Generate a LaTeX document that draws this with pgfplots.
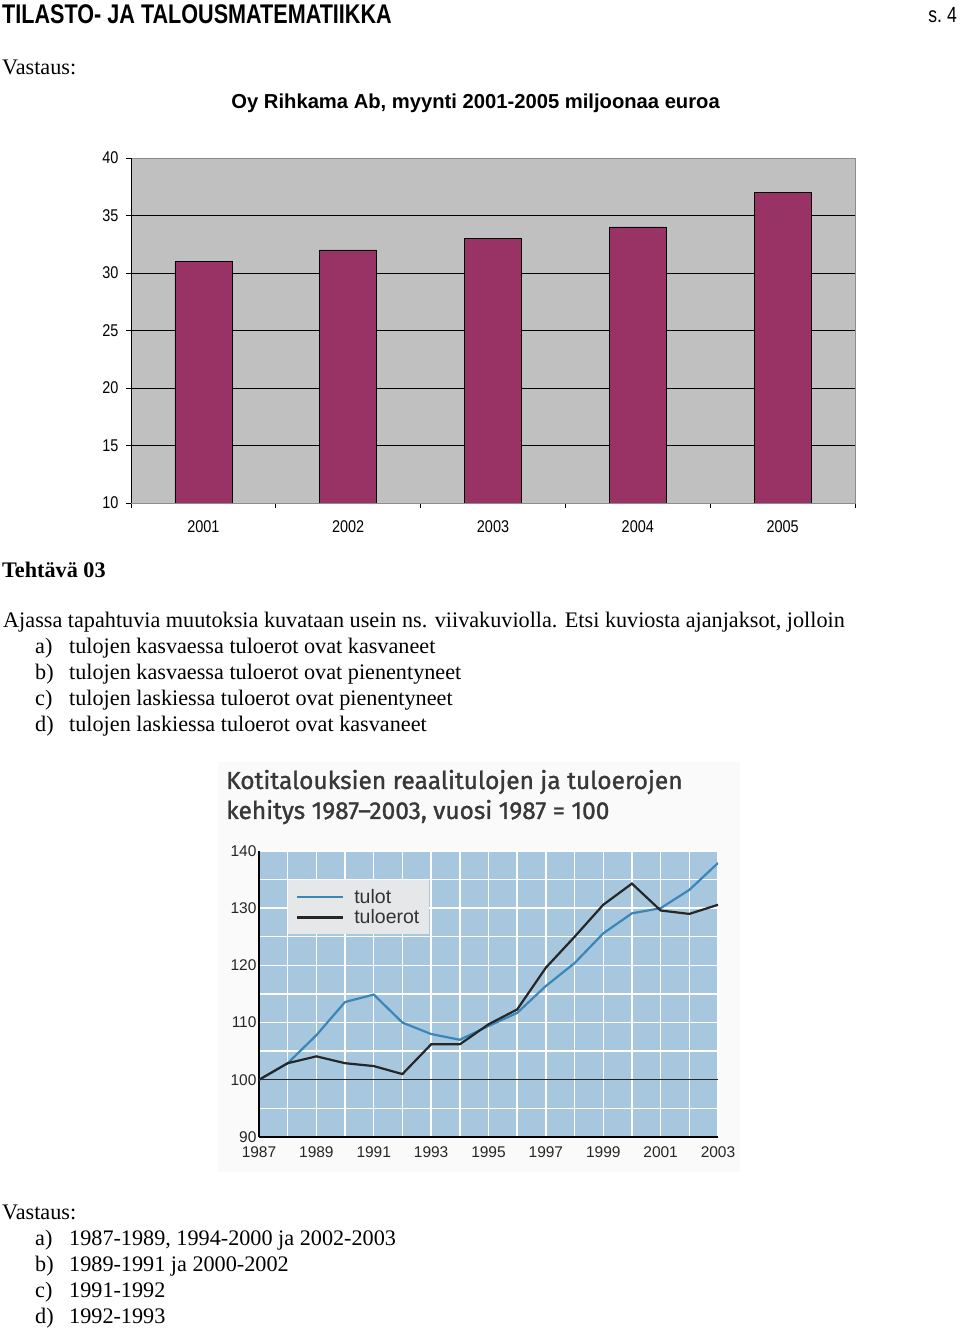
\documentclass[border=0pt]{standalone}
\usepackage{fontspec}
\setmainfont{Liberation Serif}
\newfontfamily\bodyserif{Liberation Serif}
\newfontfamily\hdrfont[FakeStretch=0.8]{Liberation Sans}
\newfontfamily\tickfont[FakeStretch=0.85]{Liberation Sans}
\newfontfamily\chartfont{Liberation Sans}
\newfontfamily\kfont[FakeBold=1.2]{Fira Sans}
\usepackage{pgfplots}
\pgfplotsset{compat=1.18}

\definecolor{barcol}{HTML}{993366}
\definecolor{bggray}{HTML}{C0C0C0}
\definecolor{bluebg}{HTML}{A7C7DF}
\definecolor{lineblue}{HTML}{3A86B8}
\definecolor{legbg}{HTML}{E6E7E9}
\definecolor{titlegray}{HTML}{383838}

\newcommand{\body}{\bodyserif\fontsize{22.2}{26}\selectfont}

\begin{document}
\begin{tikzpicture}[x=1pt,y=1pt]
\useasboundingbox (0,0) rectangle (960,1330);

% page text
\node[anchor=base west, inner sep=0] at (2,1306) {\hdrfont\bfseries\fontsize{27}{27}\selectfont TILASTO- JA TALOUSMATEMATIIKKA};
\node[anchor=base east, inner sep=0] at (957,1307) {\hdrfont\fontsize{22}{22}\selectfont s.\ 4};
\node[anchor=base west, inner sep=0] at (2,1255) {\body Vastaus:};

\node[anchor=base west, inner sep=0] at (2,752) {\body\bfseries Tehtävä 03};
\node[anchor=base west, inner sep=0] at (3,702) {\body Ajassa tapahtuvia muutoksia kuvataan usein ns. viivakuviolla. Etsi kuviosta ajanjaksot, jolloin};
\node[anchor=base west, inner sep=0] at (35,676) {\body a)};
\node[anchor=base west, inner sep=0] at (69,676) {\body tulojen kasvaessa tuloerot ovat kasvaneet};
\node[anchor=base west, inner sep=0] at (35,650) {\body b)};
\node[anchor=base west, inner sep=0] at (69,650) {\body tulojen kasvaessa tuloerot ovat pienentyneet};
\node[anchor=base west, inner sep=0] at (35,624) {\body c)};
\node[anchor=base west, inner sep=0] at (69,624) {\body tulojen laskiessa tuloerot ovat pienentyneet};
\node[anchor=base west, inner sep=0] at (35,598) {\body d)};
\node[anchor=base west, inner sep=0] at (69,598) {\body tulojen laskiessa tuloerot ovat kasvaneet};

\node[anchor=base west, inner sep=0] at (2,110) {\body Vastaus:};
\node[anchor=base west, inner sep=0] at (35,84) {\body a)};
\node[anchor=base west, inner sep=0] at (69,84) {\body 1987-1989, 1994-2000 ja 2002-2003};
\node[anchor=base west, inner sep=0] at (35,58) {\body b)};
\node[anchor=base west, inner sep=0] at (69,58) {\body 1989-1991 ja 2000-2002};
\node[anchor=base west, inner sep=0] at (35,32) {\body c)};
\node[anchor=base west, inner sep=0] at (69,32) {\body 1991-1992};
\node[anchor=base west, inner sep=0] at (35,6) {\body d)};
\node[anchor=base west, inner sep=0] at (69,6) {\body 1992-1993};

% scanned figure background and title
\fill[black!2] (218,158) rectangle (740,568);
\node[anchor=base west, inner sep=0, text=titlegray] at (226,541) {\kfont\fontsize{24.5}{24.5}\selectfont Kotitalouksien reaalitulojen ja tuloerojen};
\node[anchor=base west, inner sep=0, text=titlegray] at (226,511) {\kfont\fontsize{24.5}{24.5}\selectfont kehitys 1987–2003, vuosi 1987 = 100};

% sales bar chart
\begin{axis}[
  at={(131pt,827pt)}, anchor=south west,
  width=724pt, height=345pt, scale only axis,
  title={Oy Rihkama Ab, myynti 2001-2005 miljoonaa euroa},
  title style={font=\chartfont\bfseries\fontsize{20.2}{20.2}\selectfont, at={(0.476,1)}, anchor=base, yshift=43pt},
  xmin=0.5, xmax=5.5, ymin=10, ymax=40,
  axis background/.style={fill=bggray},
  axis line style={draw=black!45},
  ytick={10,15,...,40},
  ymajorgrids, grid style={black, line width=0.9pt},
  xtick={0.5,1.5,...,5.5}, xticklabels={},
  extra x ticks={1,2,3,4,5},
  extra x tick labels={2001,2002,2003,2004,2005},
  extra x tick style={major tick length=0pt, grid=none},
  tick pos=left, tick align=outside, major tick length=5pt,
  tick style={black, line width=0.8pt},
  /pgf/number format/assume math mode=true,
  ticklabel style={font=\tickfont\fontsize{17}{17}\selectfont},
  xticklabel style={yshift=-14pt},
  yticklabel style={xshift=-4pt},
]
\addplot[ybar, bar width=57pt, bar shift=0pt, fill=barcol, draw=black, line width=0.8pt]
  coordinates {(1,31) (2,32) (3,33) (4,34) (5,37)};
\draw[black, line width=0.9pt] (rel axis cs:0,1) -- (rel axis cs:0,0) -- (rel axis cs:1,0);
\end{axis}

% income chart
\begin{axis}[
  at={(259pt,193pt)}, anchor=south west,
  width=459pt, height=286pt, scale only axis,
  xmin=1987, xmax=2003, ymin=90, ymax=140,
  axis lines=left, axis line style={-, black, line width=1.3pt},
  axis background/.style={fill=bluebg},
  xtick={1987,1989,...,2003}, minor xtick={1988,1990,...,2002},
  ytick={90,100,...,140}, minor ytick={95,105,...,135},
  grid=both, grid style={white, line width=1.4pt},
  major tick length=0pt, minor tick length=0pt,
  /pgf/number format/1000 sep={},
  /pgf/number format/assume math mode=true,
  ticklabel style={font=\chartfont\fontsize{15.5}{15.5}\selectfont, text=black!85},
  xticklabel style={yshift=-6pt},
  yticklabel style={xshift=1pt},
  legend style={at={(0.063,0.899)}, anchor=north west, fill=legbg, draw=none,
    font=\chartfont\fontsize{19.5}{19.5}\selectfont, text=black!80,
    inner xsep=8pt, inner ysep=7pt, row sep=1pt,
    /tikz/every odd column/.append style={column sep=8pt}},
  legend cell align=left,
  legend image code/.code={\draw[#1, line width=2.2pt] (0pt,0pt) -- (46pt,0pt);},
]
\addplot[black!85, line width=1.3pt, forget plot] coordinates {(1987,100) (2003,100)};
\addplot[lineblue, line width=2.2pt] coordinates {
  (1987,100) (1988,102.9) (1989,107.8) (1990,113.6) (1991,114.9) (1992,110)
  (1993,108) (1994,107) (1995,109.4) (1996,111.7) (1997,116.4) (1998,120.4)
  (1999,125.6) (2000,129.1) (2001,130) (2002,133.2) (2003,137.9)};
\addplot[black!85, line width=2.2pt] coordinates {
  (1987,100) (1988,102.9) (1989,104.1) (1990,102.9) (1991,102.4) (1992,101)
  (1993,106.2) (1994,106.2) (1995,109.7) (1996,112.3) (1997,119.6) (1998,125)
  (1999,130.6) (2000,134.3) (2001,129.6) (2002,129) (2003,130.6)};
\legend{tulot, tuloerot}
\end{axis}
\end{tikzpicture}
\end{document}
